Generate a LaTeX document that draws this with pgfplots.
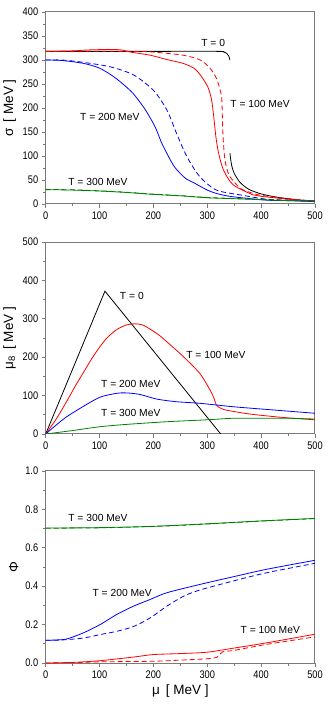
\documentclass[border=0pt]{standalone}
\usepackage{fontspec}
\setmainfont{Liberation Sans}
\newfontfamily\tickfont{Liberation Sans}[FakeStretch=0.84]
\usepackage{pgfplots}
\pgfplotsset{compat=1.18}
\definecolor{frameGray}{HTML}{7A7A7A}
\definecolor{curveGreen}{HTML}{008000}
\tikzset{
  dashedCurve/.style={dash pattern=on 5pt off 3pt},
  lbl/.style={font=\fontsize{10.3}{11}\selectfont, inner sep=0pt},
}
\pgfplotsset{
  panel/.style={
    scale only axis,
    width=269.3pt, height=192pt,
    xmin=0, xmax=500,
    xtick={0,100,...,500},
    minor x tick num=1,
    axis line style={draw=frameGray, line width=1pt},
    tick style={draw=frameGray, line width=0.8pt},
    major tick length=4pt, minor tick length=2.5pt,
    tick align=outside,
    xtick pos=bottom, ytick pos=left,
    tick label style={font=\tickfont\fontsize{11}{12}\selectfont},
    /pgf/number format/assume math mode=true,
    label style={font=\fontsize{13.5}{15}\selectfont},
    every axis plot/.append style={line width=0.8pt, no marks, smooth, tension=0.45},
    clip=true,
  },
}
\begin{document}
\begin{tikzpicture}[x=1pt,y=1pt]
\useasboundingbox (0,0) rectangle (332,716);

% sigma
\begin{axis}[panel, at={(45.7pt,512pt)}, anchor=south west,
  ymin=0, ymax=400, ytick={0,50,...,400}, minor y tick num=1,
  ylabel={σ \,[ MeV ]}]
  \addplot[black] coordinates {(0,318) (200,318) (320,318) (330,317) (336,314) (340,308) (342,300)};
  \addplot[black] coordinates {(342,106) (345,82) (350,64) (360,46) (370,36) (380,29) (400,21) (425,15) (450,11) (475,8) (500,6)};
  \addplot[red] coordinates {(0,318) (50,319) (80,321) (119,322) (140,321) (160,316) (194,310) (225,301) (255,293) (275,283) (287,269) (301,244) (308,217) (312,182) (316,140) (321,106) (330,71) (348,40) (385,19) (400,16) (450,10) (500,6)};
  \addplot[red, dashedCurve] coordinates {(0,318) (141,318) (194,317) (255,310) (287,300) (305,283) (317,262) (324,237) (327,217) (329,147) (332,99) (336,75) (342,57) (361,33) (380,24) (400,18) (450,11) (500,6)};
  \addplot[blue] coordinates {(0,300) (30,299) (70,293) (100,283) (129,263) (160,233) (184,198) (203,161) (215,128) (228,99) (240,76) (259,54) (277,43) (300,29) (320,21) (348,15) (410,8) (450,7) (500,5)};
  \addplot[blue, dashedCurve] coordinates {(0,300) (30,300) (64,296) (119,286) (163,269) (200,237) (225,196) (243,147) (262,99) (286,57) (317,29) (361,19) (410,10) (450,8) (500,6)};
  \addplot[curveGreen] coordinates {(0,30) (50,29) (100,27) (150,24) (200,20) (250,17) (300,13) (350,11) (400,9) (450,7) (500,6)};
  \addplot[curveGreen, dashedCurve] coordinates {(0,30.5) (50,29.5) (100,27.5) (150,24.5) (200,20.5) (250,17.5) (300,13.5) (350,11.5) (400,9.5) (450,7.5) (500,6)};
  \node[lbl] at (axis cs:311,335) {T = 0};
  \node[lbl] at (axis cs:398,208) {T = 100 MeV};
  \node[lbl] at (axis cs:119,181) {T = 200 MeV};
  \node[lbl] at (axis cs:97,46) {T = 300 MeV};
\end{axis}

% mu_8
\begin{axis}[panel, at={(45.7pt,282pt)}, anchor=south west,
  ymin=0, ymax=500, ytick={0,100,...,500}, minor y tick num=1,
  ylabel={μ\textsubscript{8} \,[ MeV ]}]
  \addplot[black, sharp plot] coordinates {(0,0) (110,372) (325,0)};
  \addplot[red] coordinates {(0,0) (20,40) (39,85) (55,125) (70,160) (85,195) (101,228) (115,252) (132,272) (150,284) (166,287) (180,284) (194,273) (210,258) (225,240) (256,201) (286,158) (305,115) (312,95) (317,75) (325,67) (336,62) (379,52) (441,43) (500,37)};
  \addplot[blue] coordinates {(0,0) (20,24) (39,45) (70,72) (101,96) (132,106) (150,107) (175,103) (206,91) (243,84) (286,80) (348,71) (410,64) (500,54)};
  \addplot[curveGreen] coordinates {(0,0) (50,9) (101,19) (150,25) (225,32) (300,37) (348,41) (400,41) (450,41) (500,39)};
  \node[lbl] at (axis cs:160,359) {T = 0};
  \node[lbl] at (axis cs:316,206) {T = 100 MeV};
  \node[lbl] at (axis cs:158,130) {T = 200 MeV};
  \node[lbl] at (axis cs:158,55) {T = 300 MeV};
\end{axis}

% Phi
\begin{axis}[panel, at={(45.7pt,53pt)}, anchor=south west,
  ymin=0, ymax=1, ytick={0,0.2,...,1.0}, minor y tick num=1,
  yticklabel style={/pgf/number format/fixed, /pgf/number format/fixed zerofill, /pgf/number format/precision=1},
  ylabel={Φ}, xlabel={μ \,[ MeV ]}]
  \addplot[curveGreen] coordinates {(0,0.703) (100,0.705) (200,0.712) (300,0.725) (400,0.74) (500,0.753)};
  \addplot[curveGreen, dashedCurve] coordinates {(0,0.702) (100,0.704) (200,0.711) (300,0.724) (400,0.739) (500,0.752)};
  \addplot[blue] coordinates {(0,0.118) (20,0.12) (39,0.125) (70,0.157) (101,0.2) (132,0.253) (163,0.296) (194,0.331) (225,0.366) (286,0.409) (348,0.449) (410,0.488) (500,0.535)};
  \addplot[blue, dashedCurve] coordinates {(0,0.118) (30,0.12) (70,0.13) (101,0.148) (132,0.165) (163,0.19) (194,0.235) (225,0.296) (256,0.348) (286,0.38) (348,0.427) (410,0.47) (500,0.519)};
  \addplot[red] coordinates {(0,0) (50,0.003) (101,0.012) (163,0.031) (200,0.044) (249,0.049) (299,0.056) (348,0.077) (410,0.105) (500,0.15)};
  \addplot[red, dashedCurve] coordinates {(0,0) (50,0.002) (100,0.006) (200,0.009) (250,0.015) (300,0.022) (318,0.03) (325,0.05) (332,0.062) (348,0.065) (410,0.097) (500,0.136)};
  \node[lbl] at (axis cs:97,0.754) {T = 300 MeV};
  \node[lbl] at (axis cs:142,0.366) {T = 200 MeV};
  \node[lbl] at (axis cs:417,0.173) {T = 100 MeV};
\end{axis}
\end{tikzpicture}
\end{document}
